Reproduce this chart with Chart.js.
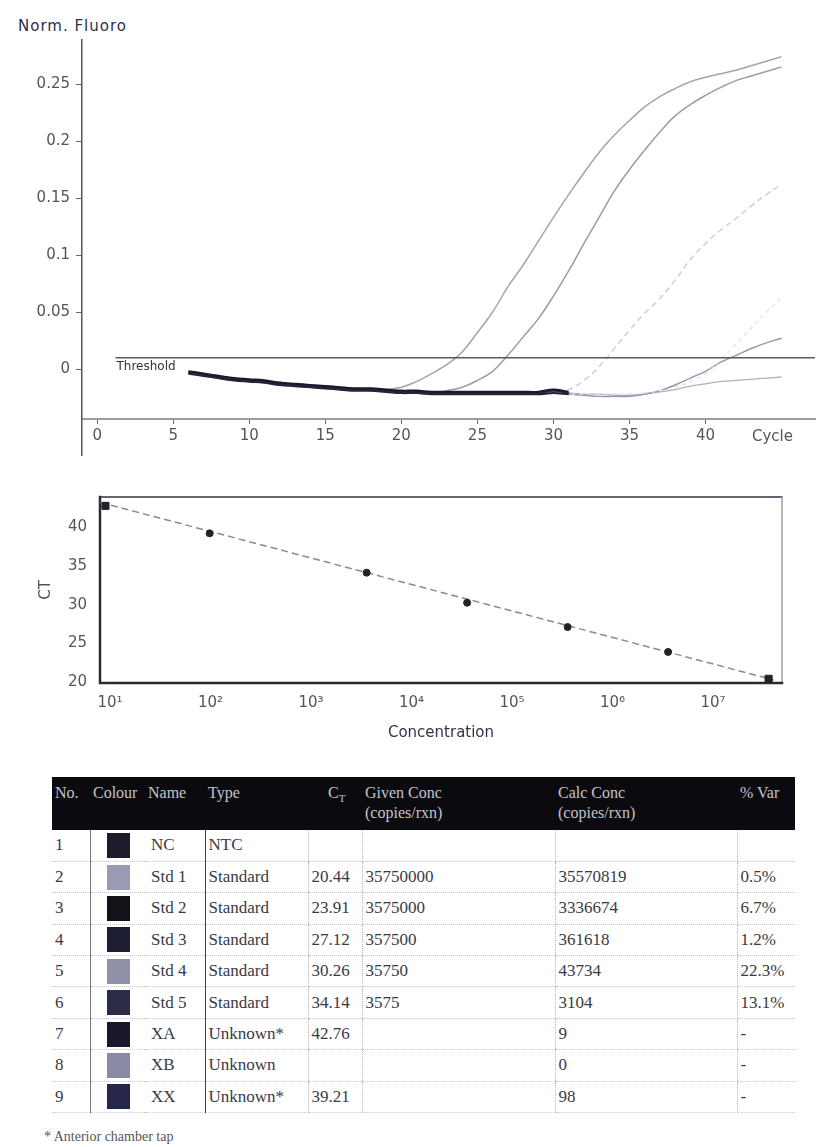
<!DOCTYPE html>
<html>
<head>
<meta charset="utf-8">
<script src="https://cdn.jsdelivr.net/npm/chart.js@4.4.1/dist/chart.umd.min.js"></script>
<style>
  html, body { margin: 0; padding: 0; background: #fff; }
  body { width: 817px; height: 1147px; position: relative; overflow: hidden; font-family: 'DejaVu Sans', sans-serif; }
  #ampBox { position: absolute; left: 0; top: 0; width: 817px; height: 470px; }
  #stdBox { position: absolute; left: 0; top: 470px; width: 817px; height: 280px; }
  .ytitle { position: absolute; left: 18px; top: 17px; font-size: 15px; color: #2e2e48; letter-spacing: 1px; }
  table.runs { position: absolute; left: 52px; top: 777px; width: 743px; border-collapse: collapse; table-layout: fixed;
    font-family: 'Liberation Serif', serif; font-size: 17px; color: #3a3a44; }
  table.runs th { background: #0b0b0f; color: #c4c4cc; font-weight: normal; text-align: left; vertical-align: top;
    height: 53px; padding: 6px 3px 0 3px; font-size: 16px; line-height: 20px; box-sizing: border-box; }
  table.runs td { height: 31.4px; padding: 0 3px; border-left: 1px dotted #b8b8c0; border-bottom: 1px dotted #c8c8d0;
    white-space: nowrap; overflow: hidden; box-sizing: border-box; }
  table.runs td.sw { border-left: 1px solid #777; padding-left: 16px; }
  table.runs td.nm { border-left: none; padding-left: 6px; }
  table.runs td.ty { border-left: 1px solid #444; }
  table.runs td.no { border-left: none; }
  .swatch { display: inline-block; width: 23px; height: 25px; vertical-align: middle; }
  .note { position: absolute; left: 44px; top: 1129px; font-family: 'Liberation Serif', serif; font-size: 14px; color: #555; }
</style>
</head>
<body>
<div class="ytitle">Norm. Fluoro</div>
<div id="ampBox"><canvas id="ampChart"></canvas></div>
<div id="stdBox"><canvas id="stdChart"></canvas></div>
<table class="runs" id="runTable"></table>
<div class="note">* Anterior chamber tap</div>

<script>
/* ── amplification data ── */
const CYCLES = [6, 7, 8, 9, 10, 11, 12, 13, 14, 15, 16, 17, 18, 19, 20, 21, 22, 23, 24, 25,
                26, 27, 28, 29, 30, 31, 32, 33, 34, 35, 36, 37, 38, 39, 40, 41, 42, 43, 44, 45];

// flat runs, only logged up to cycle 31
const AMP_NC = [-0.002, -0.004, -0.006, -0.008, -0.009, -0.010, -0.012, -0.013, -0.014, -0.015,
                -0.016, -0.017, -0.017, -0.018, -0.019, -0.019, -0.020, -0.020, -0.020, -0.020,
                -0.020, -0.020, -0.020, -0.020, -0.018, -0.020];
const AMP_XB = [-0.004, -0.006, -0.008, -0.010, -0.011, -0.012, -0.014, -0.015, -0.016, -0.017,
                -0.018, -0.019, -0.019, -0.020, -0.021, -0.021, -0.022, -0.022, -0.022, -0.022,
                -0.022, -0.022, -0.022, -0.022, -0.021, -0.022];
const AMP_XX = [-0.003, -0.005, -0.007, -0.009, -0.010, -0.011, -0.013, -0.014, -0.015, -0.016,
                -0.017, -0.018, -0.018, -0.019, -0.020, -0.020, -0.021, -0.021, -0.021, -0.021,
                -0.021, -0.021, -0.021, -0.021, -0.019, -0.021];

const AMP_STD1 = [-0.003, -0.005, -0.007, -0.009, -0.010, -0.011, -0.012, -0.013, -0.014, -0.015,
                  -0.016, -0.017, -0.018, -0.018, -0.016, -0.011, -0.004, 0.004, 0.015, 0.032,
                  0.050, 0.072, 0.091, 0.112, 0.133, 0.153, 0.172, 0.190, 0.205, 0.218,
                  0.230, 0.239, 0.246, 0.252, 0.256, 0.259, 0.262, 0.266, 0.270, 0.274];
const AMP_STD2 = [-0.003, -0.005, -0.007, -0.008, -0.010, -0.011, -0.012, -0.014, -0.015, -0.016,
                  -0.017, -0.017, -0.018, -0.019, -0.020, -0.020, -0.021, -0.019, -0.016, -0.010,
                  -0.002, 0.012, 0.028, 0.044, 0.064, 0.086, 0.110, 0.133, 0.156, 0.175,
                  0.192, 0.208, 0.222, 0.232, 0.240, 0.247, 0.253, 0.257, 0.261, 0.265];
const AMP_STD3 = [-0.004, -0.006, -0.007, -0.009, -0.010, -0.012, -0.013, -0.014, -0.015, -0.016,
                  -0.017, -0.018, -0.019, -0.019, -0.020, -0.021, -0.021, -0.021, -0.022, -0.022,
                  -0.022, -0.022, -0.022, -0.021, -0.021, -0.018, -0.010, 0.002, 0.018, 0.034,
                  0.049, 0.062, 0.078, 0.096, 0.110, 0.122, 0.132, 0.143, 0.153, 0.162];
const AMP_STD4 = [-0.003, -0.005, -0.006, -0.008, -0.010, -0.011, -0.012, -0.013, -0.014, -0.015,
                  -0.016, -0.017, -0.018, -0.019, -0.019, -0.020, -0.020, -0.021, -0.021, -0.021,
                  -0.021, -0.022, -0.022, -0.022, -0.022, -0.022, -0.022, -0.022, -0.022, -0.022,
                  -0.021, -0.019, -0.016, -0.011, -0.004, 0.008, 0.022, 0.036, 0.050, 0.063];
const AMP_STD5 = [-0.004, -0.006, -0.008, -0.009, -0.011, -0.012, -0.013, -0.015, -0.016, -0.017,
                  -0.018, -0.018, -0.019, -0.020, -0.021, -0.021, -0.022, -0.022, -0.022, -0.022,
                  -0.022, -0.022, -0.022, -0.022, -0.021, -0.022, -0.023, -0.024, -0.024, -0.024,
                  -0.022, -0.019, -0.014, -0.008, -0.002, 0.006, 0.012, 0.018, 0.023, 0.027];
const AMP_XA = [-0.003, -0.005, -0.007, -0.008, -0.010, -0.011, -0.013, -0.014, -0.015, -0.016,
                -0.017, -0.018, -0.018, -0.019, -0.020, -0.020, -0.021, -0.021, -0.021, -0.021,
                -0.021, -0.021, -0.021, -0.021, -0.020, -0.021, -0.022, -0.022, -0.023, -0.023,
                -0.022, -0.020, -0.018, -0.015, -0.013, -0.011, -0.010, -0.009, -0.008, -0.007];

const THRESHOLD = 0.01;
const THRESHOLD_FROM = 1.2;   // cycle where the threshold line starts
const THRESHOLD_TO = 47.2;
const X_AXIS_AT = -0.044;     // fluorescence level the cycle axis sits on

const AMP_Y_TICKS = [0, 0.05, 0.1, 0.15, 0.2, 0.25];
const AMP_X_TICKS = [0, 5, 10, 15, 20, 25, 30, 35, 40];

/* ── run table / standard curve data ── */
const SAMPLE_NO   = ['1', '2', '3', '4', '5', '6', '7', '8', '9'];
const SAMPLE_NAME = ['NC', 'Std 1', 'Std 2', 'Std 3', 'Std 4', 'Std 5', 'XA', 'XB', 'XX'];
const SAMPLE_TYPE = ['NTC', 'Standard', 'Standard', 'Standard', 'Standard', 'Standard', 'Unknown*', 'Unknown', 'Unknown*'];
const SAMPLE_CT   = [null, 20.44, 23.91, 27.12, 30.26, 34.14, 42.76, null, 39.21];
const GIVEN_CONC  = [null, 35750000, 3575000, 357500, 35750, 3575, null, null, null];
const CALC_CONC   = [null, 35570819, 3336674, 361618, 43734, 3104, 9, 0, 98];
const PCT_VAR     = ['', '0.5%', '6.7%', '1.2%', '22.3%', '13.1%', '-', '-', '-'];
const SWATCH      = ['#1c1c2c', '#9a9ab2', '#121218', '#1e1e34', '#9090a8', '#2c2c48', '#18182a', '#8a8aa4', '#26264a'];

// regression line ends
const FIT_CONC = [8, 40000000];
const FIT_CT   = [43.2, 20.3];
const STD_Y_TICKS = [20, 25, 30, 35, 40];
const STD_X_TICKS = [1e1, 1e2, 1e3, 1e4, 1e5, 1e6, 1e7];

Chart.defaults.font.family = "'DejaVu Sans', sans-serif";
Chart.defaults.color = '#555';
Chart.defaults.animation = false;

/* ── amplification plot ── */
function curve(label, vals, color, width, dash) {
  return {
    label: label,
    data: vals.map((v, i) => ({ x: CYCLES[i], y: v })),
    borderColor: color,
    borderWidth: width,
    borderDash: dash || [],
    pointRadius: 0,
    tension: 0.4,
    fill: false
  };
}

const ampLabels = {
  id: 'ampLabels',
  afterDraw(chart) {
    const { ctx, scales: { x, y } } = chart;
    ctx.save();
    ctx.fillStyle = '#333';
    ctx.font = "12px 'DejaVu Sans'";
    ctx.textAlign = 'left';
    ctx.textBaseline = 'top';
    ctx.fillText('Threshold', x.getPixelForValue(THRESHOLD_FROM) + 1, y.getPixelForValue(THRESHOLD) + 3);
    ctx.fillStyle = '#555';
    ctx.font = "15px 'DejaVu Sans'";
    ctx.textAlign = 'center';
    ctx.textBaseline = 'middle';
    ctx.fillText('Cycle', x.getPixelForValue(44.4), y.getPixelForValue(X_AXIS_AT) + 18);
    ctx.restore();
  }
};

new Chart(document.getElementById('ampChart'), {
  type: 'line',
  data: {
    datasets: [
      curve('NC', AMP_NC, '#1a1a2e', 2.2),
      curve('XB', AMP_XB, '#23233a', 2.2),
      curve('XX', AMP_XX, '#2a2a44', 2.2),
      {
        label: 'Threshold',
        data: [{ x: THRESHOLD_FROM, y: THRESHOLD }, { x: THRESHOLD_TO, y: THRESHOLD }],
        borderColor: '#5a5a66', borderWidth: 1.5, pointRadius: 0, tension: 0
      },
      curve('Std 1', AMP_STD1, '#a4a4aa', 1.5),
      curve('Std 2', AMP_STD2, '#9c9ca4', 1.5),
      curve('Std 3', AMP_STD3, '#cdcdd3', 1.4, [6, 4]),
      curve('Std 4', AMP_STD4, '#e0e0e6', 1.3, [4, 4]),
      curve('Std 5', AMP_STD5, '#9494b4', 1.4),
      curve('XA', AMP_XA, '#b0b0b8', 1.3)
    ]
  },
  options: {
    responsive: true,
    maintainAspectRatio: false,
    layout: { padding: { left: 0, top: 40, right: 2, bottom: 15 } },
    plugins: { legend: { display: false }, tooltip: { enabled: false } },
    scales: {
      x: {
        type: 'linear',
        min: -1, max: 47.2,
        position: { y: X_AXIS_AT },
        afterFit: s => { s.height = 0; },
        afterBuildTicks: s => { s.ticks = AMP_X_TICKS.map(v => ({ value: v })); },
        border: { display: true, color: '#9a9aa2', width: 2 },
        grid: { display: true, drawOnChartArea: false, tickLength: 4, color: '#666' },
        ticks: { padding: 4, font: { size: 15 }, color: '#555', maxRotation: 0, callback: v => String(v) }
      },
      y: {
        type: 'linear',
        min: -0.0754, max: 0.2886,
        afterFit: s => { s.width = 82; },
        afterBuildTicks: s => { s.ticks = AMP_Y_TICKS.map(v => ({ value: v })); },
        border: { display: true, color: '#55555f', width: 1.5 },
        grid: { display: true, drawOnChartArea: false, tickLength: 6, color: '#666' },
        ticks: { padding: 6, font: { size: 15 }, color: '#555', callback: v => String(v) }
      }
    }
  },
  plugins: [ampLabels]
});

/* ── standard curve ── */
const stdIdx = SAMPLE_TYPE.map((t, i) => i).filter(i => SAMPLE_TYPE[i] === 'Standard');
const unkIdx = SAMPLE_TYPE.map((t, i) => i).filter(i => SAMPLE_TYPE[i].startsWith('Unknown') && SAMPLE_CT[i] !== null);

const SUPER = { '0': '⁰', '1': '¹', '2': '²', '3': '³', '4': '⁴', '5': '⁵', '6': '⁶', '7': '⁷', '8': '⁸', '9': '⁹' };
function decadeLabel(v) {
  const e = String(Math.round(Math.log10(v)));
  return '10' + e.split('').map(c => SUPER[c]).join('');
}

const plotFrame = {
  id: 'plotFrame',
  beforeDatasetsDraw(chart) {
    const { ctx, chartArea: a } = chart;
    ctx.save();
    ctx.lineCap = 'square';
    ctx.strokeStyle = '#666670'; ctx.lineWidth = 2;
    ctx.beginPath(); ctx.moveTo(a.left, a.top); ctx.lineTo(a.right, a.top); ctx.stroke();
    ctx.strokeStyle = '#a0a0a8'; ctx.lineWidth = 1.5;
    ctx.beginPath(); ctx.moveTo(a.right, a.top); ctx.lineTo(a.right, a.bottom); ctx.stroke();
    ctx.strokeStyle = '#2a2a30'; ctx.lineWidth = 2.5;
    ctx.beginPath(); ctx.moveTo(a.left, a.top); ctx.lineTo(a.left, a.bottom); ctx.lineTo(a.right, a.bottom); ctx.stroke();
    ctx.restore();
  }
};

new Chart(document.getElementById('stdChart'), {
  type: 'scatter',
  data: {
    datasets: [
      {
        label: 'Standards',
        data: stdIdx.map(i => ({ x: GIVEN_CONC[i], y: SAMPLE_CT[i] })),
        backgroundColor: '#222228', borderColor: '#222228',
        pointStyle: stdIdx.map(i => (SAMPLE_NAME[i] === 'Std 1' ? 'rect' : 'circle')),
        pointRadius: stdIdx.map(i => (SAMPLE_NAME[i] === 'Std 1' ? 5 : 3.5))
      },
      {
        label: 'Unknowns',
        data: unkIdx.map(i => ({ x: CALC_CONC[i], y: SAMPLE_CT[i] })),
        backgroundColor: '#222228', borderColor: '#222228',
        pointStyle: unkIdx.map(i => (SAMPLE_NAME[i] === 'XA' ? 'rect' : 'circle')),
        pointRadius: unkIdx.map(i => (SAMPLE_NAME[i] === 'XA' ? 5 : 3.5))
      },
      {
        label: 'Fit',
        data: FIT_CONC.map((c, i) => ({ x: c, y: FIT_CT[i] })),
        showLine: true, pointRadius: 0,
        borderColor: '#8a8a92', borderWidth: 1.5, borderDash: [7, 4]
      }
    ]
  },
  options: {
    responsive: true,
    maintainAspectRatio: false,
    layout: { padding: { left: 37, top: 27, right: 35, bottom: 8 } },
    plugins: { legend: { display: false }, tooltip: { enabled: false } },
    scales: {
      x: {
        type: 'logarithmic',
        min: 7.94, max: 48600000,
        afterFit: s => { s.height = 59; },
        afterBuildTicks: s => { s.ticks = STD_X_TICKS.map(v => ({ value: v })); },
        border: { display: false },
        grid: { display: false },
        ticks: { padding: 3, font: { size: 15 }, color: '#555', maxRotation: 0, callback: v => decadeLabel(v) },
        title: { display: true, text: 'Concentration', color: '#333348', font: { size: 15 }, padding: { top: 0, bottom: 0 } }
      },
      y: {
        type: 'linear',
        min: 19.9, max: 43.9,
        afterFit: s => { s.width = 63; },
        afterBuildTicks: s => { s.ticks = STD_Y_TICKS.map(v => ({ value: v })); },
        border: { display: false },
        grid: { display: false },
        ticks: { padding: 5, font: { size: 15 }, color: '#555' },
        title: { display: true, text: 'CT', color: '#555', font: { size: 15 }, padding: { top: 0, bottom: 0 } }
      }
    }
  },
  plugins: [plotFrame]
});

/* ── run table ── */
const table = document.getElementById('runTable');
const colW = [38, 55, 60, 103, 54, 193, 182, 58];
let html = '<colgroup>' + colW.map(w => `<col style="width:${w}px">`).join('') + '</colgroup>';
html += '<tr><th>No.</th><th>Colour</th><th>Name</th><th>Type</th><th style="padding-left:20px">C<sub style="font-size:11px">T</sub></th>'
      + '<th>Given Conc<br>(copies/rxn)</th><th>Calc Conc<br>(copies/rxn)</th><th>% Var</th></tr>';
SAMPLE_NO.forEach((no, i) => {
  const ct = SAMPLE_CT[i] === null ? '' : SAMPLE_CT[i].toFixed(2);
  const given = GIVEN_CONC[i] === null ? '' : String(GIVEN_CONC[i]);
  const calc = CALC_CONC[i] === null ? '' : String(CALC_CONC[i]);
  html += `<tr><td class="no">${no}</td>`
        + `<td class="sw"><span class="swatch" style="background:${SWATCH[i]}"></span></td>`
        + `<td class="nm">${SAMPLE_NAME[i]}</td><td class="ty">${SAMPLE_TYPE[i]}</td>`
        + `<td>${ct}</td><td>${given}</td><td>${calc}</td><td>${PCT_VAR[i]}</td></tr>`;
});
table.innerHTML = html;
</script>
</body>
</html>
